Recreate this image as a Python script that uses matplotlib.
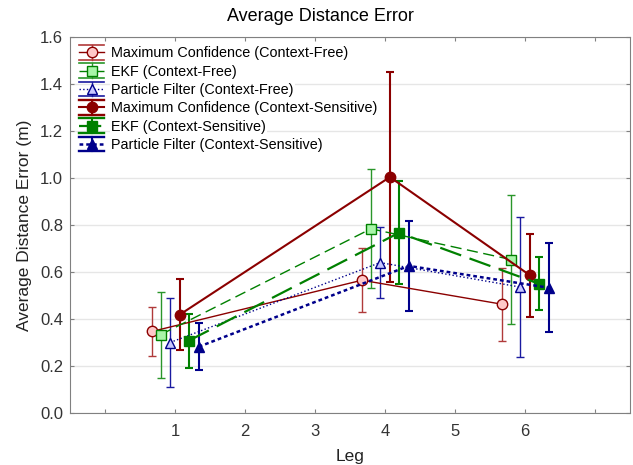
import matplotlib
matplotlib.use("Agg")
import matplotlib.pyplot as plt
from matplotlib.legend_handler import HandlerBase
from matplotlib.lines import Line2D
import numpy as np

plt.rcParams['font.family'] = ['Liberation Sans', 'DejaVu Sans']

legs = [1, 4, 6]
offsets = [-0.33, -0.2, -0.07, 0.07, 0.2, 0.34]
names = ["Maximum Confidence (Context-Free)", "EKF (Context-Free)",
         "Particle Filter (Context-Free)", "Maximum Confidence (Context-Sensitive)",
         "EKF (Context-Sensitive)", "Particle Filter (Context-Sensitive)"]

mc_cf = [0.347, 0.565, 0.463]
mc_cf_err = [0.106, 0.136, 0.156]
ekf_cf = [0.334, 0.784, 0.653]
ekf_cf_err = [0.183, 0.253, 0.275]
pf_cf = [0.30, 0.64, 0.536]
pf_cf_err = [0.188, 0.15, 0.297]
mc_cs = [0.419, 1.004, 0.586]
mc_cs_err = [0.152, 0.448, 0.177]
ekf_cs = [0.308, 0.767, 0.55]
ekf_cs_err = [0.115, 0.219, 0.113]
pf_cs = [0.282, 0.626, 0.533]
pf_cs_err = [0.10, 0.19, 0.19]

values = [mc_cf, ekf_cf, pf_cf, mc_cs, ekf_cs, pf_cs]
errors = [mc_cf_err, ekf_cf_err, pf_cf_err, mc_cs_err, ekf_cs_err, pf_cs_err]

red = "#8b0000"
green = "#008000"
blue = "#00008b"
styles = [
    dict(color=red, marker='o', mfc="#ffc8c8", ls='-', lw=1.0, ecolor="#b03a3a", elinewidth=1.0, ms=7.5),
    dict(color=green, marker='s', mfc="#a8f5a8", ls=(0, (8, 4)), lw=1.0, ecolor="#2a962a", elinewidth=1.0, ms=7),
    dict(color=blue, marker='^', mfc="#c8c8ff", ls=':', lw=1.0, ecolor="#1a1aa0", elinewidth=1.0, ms=7.5),
    dict(color=red, marker='o', mfc=red, ls='-', lw=1.5, ecolor=red, elinewidth=1.5, ms=7.5),
    dict(color=green, marker='s', mfc=green, ls=(0, (10, 4)), lw=1.6, ecolor=green, elinewidth=1.5, ms=7),
    dict(color=blue, marker='^', mfc=blue, ls=(0, (1.5, 1.2)), lw=1.8, ecolor=blue, elinewidth=1.5, ms=7.5),
]


class Proxy:
    def __init__(self, st):
        self.st = st


class EBHandler(HandlerBase):
    def create_artists(self, legend, orig_handle, xdescent, ydescent, width, height,
                       fontsize, trans):
        st = orig_handle.st
        x0, x1 = -xdescent, -xdescent + width
        yc = (height - ydescent) / 2.0
        half = 0.5 * fontsize
        arts = []
        for yy in (yc - half, yc + half):
            arts.append(Line2D([x0, x1], [yy, yy], color=st['ecolor'], lw=st['elinewidth'] + 0.2))
        xm = (x0 + x1) / 2.0
        arts.append(Line2D([xm, xm], [yc - half, yc + half], color=st['ecolor'], lw=st['elinewidth']))
        arts.append(Line2D([x0, x1], [yc, yc], color=st['color'], lw=st['lw'], ls=st['ls']))
        arts.append(Line2D([xm], [yc], color=st['color'], marker=st['marker'], mfc=st['mfc'],
                           mec=st['color'], ms=st['ms'], ls='none'))
        for a in arts:
            a.set_transform(trans)
        return arts


fig = plt.figure(figsize=(6.33, 4.65), dpi=100)
ax = fig.add_axes([70/633, 1-413/465, 560/633, 376/465])

for i in range(6):
    xs = [l + offsets[i] for l in legs]
    st = styles[i]
    ax.errorbar(xs, values[i], yerr=errors[i], color=st['color'], marker=st['marker'],
                mfc=st['mfc'], mec=st['color'], ms=st['ms'],
                ls=st['ls'], lw=st['lw'], ecolor=st['ecolor'], elinewidth=st['elinewidth'],
                capsize=3, capthick=st['elinewidth'], zorder=3)

ax.set_xlim(-0.5, 7.5)
ax.set_ylim(0, 1.6)
ax.set_xticks(range(0, 8))
ax.set_xticklabels(["", "1", "2", "3", "4", "5", "6", ""])
ax.set_yticks(np.arange(0, 1.61, 0.2))
ax.set_yticklabels([f"{v:.1f}" for v in np.arange(0, 1.61, 0.2)])
ax.yaxis.grid(True, color="#e6e6e6", lw=1.0)
ax.set_axisbelow(True)
ax.tick_params(direction='in', top=True, right=True, length=3, color="#808080",
               labelsize=12, labelcolor="#333333", pad=5)
ax.tick_params(axis='x', pad=8)
for s in ax.spines.values():
    s.set_color("#808080")
ax.set_xlabel("Leg", fontsize=12.5, color="#222222", labelpad=7)
ax.set_ylabel("Average Distance Error (m)", fontsize=12.5, color="#222222", labelpad=6)
fig.suptitle("Average Distance Error", fontsize=13, x=0.507, y=0.965, va='center')

proxies = [Proxy(st) for st in styles]
leg = ax.legend(proxies, names, handler_map={Proxy: EBHandler()}, loc='upper left',
                fontsize=10.4, frameon=False, handlelength=1.7, labelspacing=0.3,
                borderpad=0.45, handletextpad=0.5, borderaxespad=0.2)
for t in leg.get_texts():
    t.set_bbox(dict(facecolor='white', edgecolor='none', pad=1))

fig.savefig("out.png", dpi=100)
